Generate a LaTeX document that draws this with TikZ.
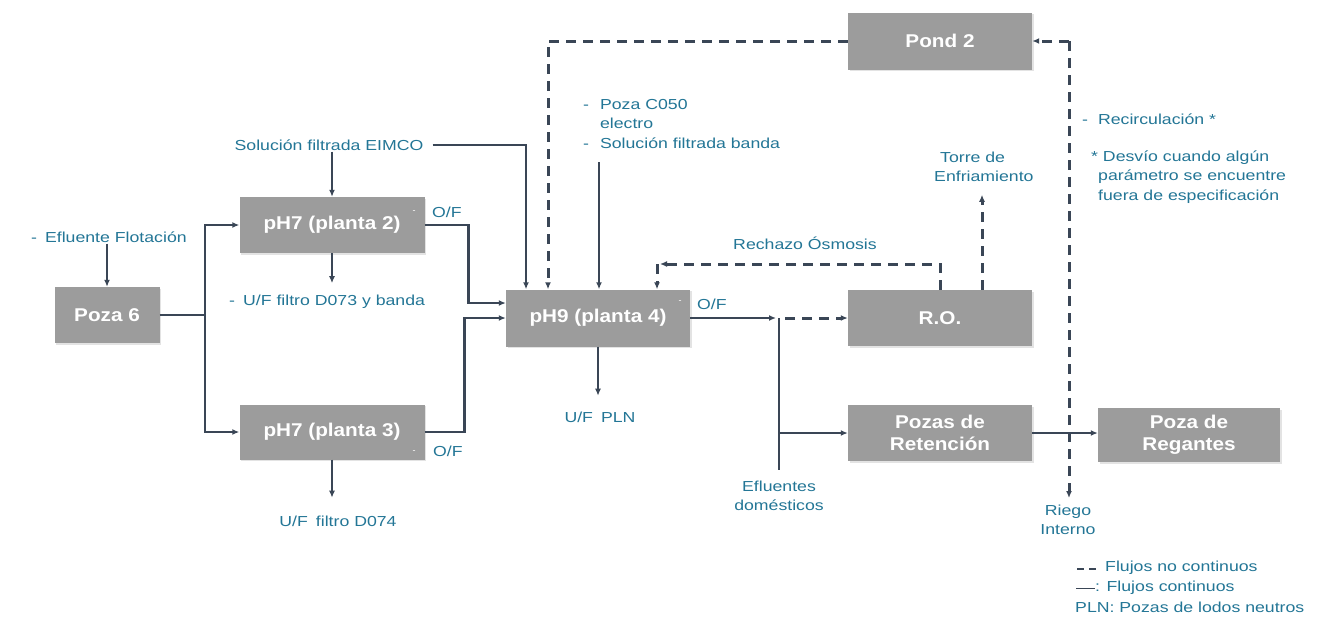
\documentclass[tikz,border=0pt]{standalone}
\usepackage{fontspec}
\setmainfont{Liberation Sans}
\newfontfamily\lblfont[FakeStretch=1.22]{Liberation Sans}
\newfontfamily\boxfont[FakeStretch=1.12]{Liberation Sans}
\usetikzlibrary{arrows.meta,calc,shadows}
\definecolor{boxgray}{RGB}{156,156,156}
\definecolor{lbl}{RGB}{35,118,150}
\definecolor{ln}{RGB}{58,70,86}
\tikzset{
  blk/.style={rectangle, fill=boxgray, text=white, inner sep=0pt, align=center,
    drop shadow={opacity=0.22, shadow xshift=1.5pt, shadow yshift=-1.5pt},
    font=\boxfont\fontsize{18.5}{22}\selectfont\bfseries},
  lab/.style={text=lbl, inner sep=1pt, align=left,
    font=\lblfont\fontsize{14.5}{19.5}\selectfont},
  labc/.style={lab, align=center},
  flow/.style={draw=ln, line width=2.6pt, -{Latex[length=7pt,width=6pt]}},
  dflow/.style={draw=ln, line width=3pt, dash pattern=on 10pt off 7pt, -{Latex[length=7pt,width=6pt]}},
  plainln/.style={draw=ln, line width=2.6pt},
}
\begin{document}
\begin{tikzpicture}[x=1pt,y=-1pt]
\useasboundingbox (0,0) rectangle (1320,630);
\fill[white] (0,0) rectangle (1320,630);

% boxes
\node[blk, minimum width=105pt, minimum height=56pt] (poza6) at (107,315) {Poza 6};
\node[blk, minimum width=185pt, minimum height=56pt] (p2) at (332,225) {pH7 (planta 2)};
\node[blk, minimum width=185pt, minimum height=55pt] (p3) at (332,432) {pH7 (planta 3)};
\node[blk, minimum width=184pt, minimum height=57pt] (p4) at (598,318) {pH9 (planta 4)};
\node[blk, minimum width=184pt, minimum height=57pt] (pond) at (940,41) {Pond 2};
\node[blk, minimum width=184pt, minimum height=56pt] (ro) at (940,318) {R.O.};
\node[blk, minimum width=184pt, minimum height=56pt] (ret) at (940,433) {Pozas de\\Retención};
\node[blk, minimum width=182pt, minimum height=54pt] (reg) at (1189,435) {Poza de\\Regantes};

% small dashes inside boxes
\node[text=white, inner sep=0pt, font=\small] (d2) at (414,212) {-};
\node[text=white, inner sep=0pt, font=\small] (d3) at (414,452) {-};
\node[text=white, inner sep=0pt, font=\small] (d4) at (680,302) {-};

% labels
\node[lab, anchor=west] (eflot) at (30,237) {-\hspace{8pt}Efluente Flotación};
\node[lab] (solf) at (329,145) {Solución filtrada EIMCO};
\node[lab, anchor=west] (uf73) at (228,302) {-\hspace{8pt}U/F filtro D073 y banda};
\node[lab, anchor=west] (of2) at (431,212) {O/F};
\node[lab, anchor=west] (of3) at (432,451) {O/F};
\node[lab] (uf74) at (338,521) {U/F\hspace{8pt}filtro D074};
\node[lab, anchor=west] (c050) at (582,125) {\begin{tabular}{@{}l@{\hspace{11pt}}l@{}}-&Poza C050\\&electro\\-&Solución filtrada banda\end{tabular}};
\node[lab] (ufpln) at (600,417) {U/F\hspace{8pt}PLN};
\node[lab, anchor=west] (of4) at (696,304) {O/F};
\node[lab] (rech) at (805,243) {Rechazo Ósmosis};
\node[lab, anchor=west] (torre) at (933,167) {\hspace{6pt}Torre de\\Enfriamiento};
\node[lab, anchor=west] (recirc) at (1081,119) {-\hspace{10pt}Recirculación *};
\node[lab, anchor=west] (desv) at (1090,177) {* Desvío cuando algún\\\hspace{7pt}parámetro se encuentre\\\hspace{7pt}fuera de especificación};
\node[labc] (efld) at (779,496) {Efluentes\\domésticos};
\node[labc] (riego) at (1068,520) {Riego\\Interno};

% legend
\coordinate (lg1a) at (1077,569);
\coordinate (lg1b) at (1100,569);
\draw[draw=ln, line width=2.8pt, dash pattern=on 7pt off 5pt] (lg1a) -- (lg1b);
\node[lab, anchor=west] (lg1) at (1104,568) {Flujos no continuos};
\coordinate (lg2a) at (1076,588);
\coordinate (lg2b) at (1095,588);
\draw[draw=ln, line width=1pt] (lg2a) -- (lg2b);
\node[lab, anchor=west] (lg2) at (1094,588) {: Flujos continuos};
\node[lab, anchor=west] (lg3) at (1074,607) {PLN: Pozas de lodos neutros};

% connectors
\draw[flow] (eflot.south -| poza6.north) -- (poza6.north);
\coordinate (j1) at (205,315);
\draw[plainln] (poza6.east) -- (j1);
\draw[flow] (j1) |- (p2.west);
\draw[flow] (j1) |- (p3.west);
\draw[flow] (solf.south -| p2.north) -- (p2.north);
\draw[flow] ([xshift=8pt]solf.east) -| ($(p4.north)+(-72,0)$);
\draw[dflow] (pond.west) -| ($(p4.north)+(-50,0)$);
\coordinate (c050in) at (599,162);
\draw[flow] (c050in) -- (c050in |- p4.north);
\draw[flow] (p2.east) -- ++(44,0) |- ($(p4.west)+(0,-15)$);
\draw[flow] (p3.east) -- ++(40,0) |- (p4.west);
\draw[flow] (p2.south) -- ++(0,30);
\draw[flow] (p3.south) -- ++(0,38);
\draw[flow] (p4.south) -- ++(0,49);

\coordinate (jt) at (779,318);
\coordinate (jb) at (779,470);
\draw[plainln] (jt) -- (jb);
\draw[flow] (p4.east) -- ($(jt)+(-3,0)$);
\draw[dflow] ($(jt)+(6,0)$) -- (ro.west);
\draw[flow] (jt |- ret.west) -- (ret.west);
\draw[flow] (ret.east) -- (reg.west |- ret.east);

% rechazo osmosis
\coordinate (rc) at (657,264);
\draw[dflow] (ro.north) |- ($(rc)+(3,0)$);
\draw[dflow] (rc) -- (rc |- p4.north);
% torre
\draw[dflow] ($(ro.north)+(42,0)$) -- ++(0,-95);
% recirculacion / riego
\coordinate (rg) at (1069,498);
\draw[dflow] (rg |- pond.east) -- (pond.east);
\draw[dflow] (rg |- pond.east) -- (rg);
\end{tikzpicture}
\end{document}
